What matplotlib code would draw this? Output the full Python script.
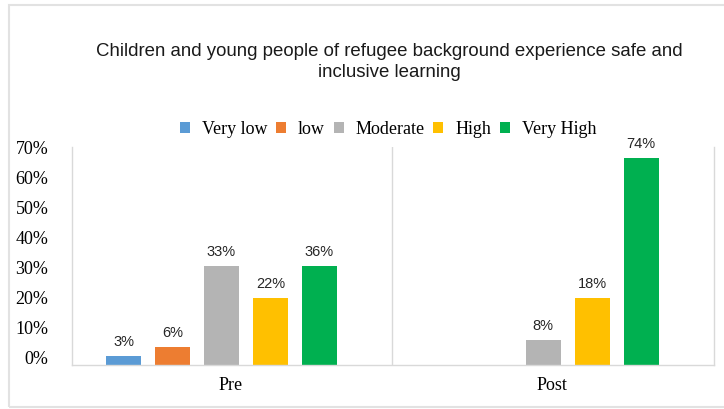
import matplotlib
matplotlib.use("Agg")
import matplotlib.pyplot as plt
import matplotlib.transforms as mtransforms
from matplotlib.patches import Rectangle
import numpy as np

title = "Children and young people of refugee background experience safe and\ninclusive learning"
groups = ["Pre", "Post"]
levels = ["Very low", "low", "Moderate", "High", "Very High"]
colors = ["#5B9BD5", "#ED7D31", "#B4B4B4", "#FFC000", "#00B050"]
# bar heights as drawn in the picture (fractions)
pre_heights = [0.03, 0.06, 0.33, 0.225, 0.33]
post_heights = [0.0, 0.0, 0.083, 0.225, 0.69]
# data labels as printed
pre_labels = ["3%", "6%", "33%", "22%", "36%"]
post_labels = ["", "", "8%", "18%", "74%"]
yticks = [0, 0.1, 0.2, 0.3, 0.4, 0.5, 0.6, 0.7]
ytick_labels = ["0%", "10%", "20%", "30%", "40%", "50%", "60%", "70%"]

W, H = 724, 409
fig = plt.figure(figsize=(W / 100, H / 100), dpi=100)
fig.patch.set_facecolor("white")

# outer frame
fig.add_artist(Rectangle((9 / W, 1 - 407 / H), 1.05, (407 - 5) / H,
                         transform=fig.transFigure, fill=False,
                         edgecolor="#E2E2E2", lw=1.5))

ax = fig.add_axes([72 / W, 1 - 365 / H, (714 - 72) / W, (365 - 147) / H])
ax.set_facecolor("white")

heights = [pre_heights, post_heights]
labels = [pre_labels, post_labels]
x = np.arange(len(groups))
off = 49 / 321.5
bw = 35 / 321.5
for i, lvl in enumerate(levels):
    vals = [heights[g][i] for g in range(len(groups))]
    pos = x + (i - 2) * off
    bars = ax.bar(pos, vals, width=bw, color=colors[i], label=lvl, zorder=2)
    for g, b in enumerate(bars):
        txt = labels[g][i]
        if txt:
            ax.annotate(txt, (b.get_x() + b.get_width() / 2, b.get_height()),
                        xytext=(0, 5), textcoords="offset points",
                        ha="center", va="bottom", fontsize=10.5,
                        family="Liberation Sans", color="#262626")

ax.set_xlim(-149.5 / 321.5, 492.5 / 321.5)
ax.set_ylim(0, 218 / 300)
ax.axvline(0.5 + 10 / 321.5, color="#D9D9D9", lw=1, zorder=1)

for s in ["top"]:
    ax.spines[s].set_visible(False)
for s in ["left", "right", "bottom"]:
    ax.spines[s].set_color("#D9D9D9")
    ax.spines[s].set_linewidth(1)

ax.set_yticks(yticks)
ax.set_yticklabels(ytick_labels, family="Liberation Serif", fontsize=13, color="#000000")
ax.tick_params(axis="y", length=0, pad=17)
ax.set_xticks(x)
ax.set_xticklabels(groups, family="Liberation Serif", fontsize=13, color="#000000")
ax.tick_params(axis="x", length=0, pad=9)

yoff = mtransforms.ScaledTranslation(0, 7.5 / 100, fig.dpi_scale_trans)
for lab in ax.get_yticklabels():
    lab.set_transform(lab.get_transform() + yoff)
xoff = mtransforms.ScaledTranslation(9 / 100, 0, fig.dpi_scale_trans)
for lab in ax.get_xticklabels():
    lab.set_transform(lab.get_transform() + xoff)

fig.text(389 / W, 1 - 62 / H, title, ha="center", va="center",
         family="Liberation Sans", fontsize=13.4, color="#1a1a1a", linespacing=1.3)

leg = fig.legend(loc="center", bbox_to_anchor=(388 / W, 1 - 129 / H), ncol=5,
                 frameon=False, prop={"family": "Liberation Serif", "size": 13},
                 handlelength=0.55, handleheight=0.55, handletextpad=0.65,
                 columnspacing=0.5, borderaxespad=0)

fig.savefig("out.png", dpi=100, facecolor="white")
